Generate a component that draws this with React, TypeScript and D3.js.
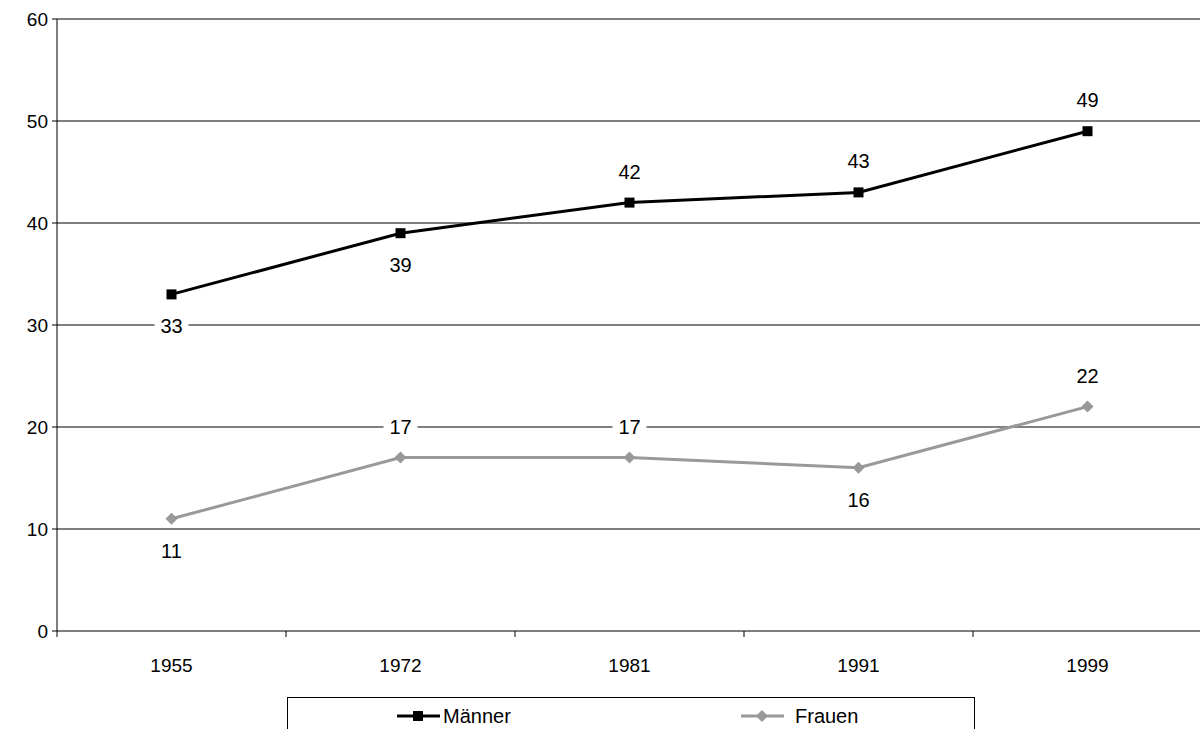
import React from "react";
import * as d3 from "d3";

const years = ["1955", "1972", "1981", "1991", "1999"];
const maenner = [33, 39, 42, 43, 49];
const frauen = [11, 17, 17, 16, 22];
const maennerPos = ["below", "below", "above", "above", "above"];
const frauenPos = ["below", "above", "above", "below", "above"];
const yTicks = [0, 10, 20, 30, 40, 50, 60];

export default function App() {
  const W = 1200, H = 729;
  const left = 57, right = 1202, top = 19, bottom = 631;
  const x = d3.scaleBand().domain(years).range([left, right]);
  const y = d3.scaleLinear().domain([0, 60]).range([bottom, top]);
  const cx = (d: string) => x(d)! + x.bandwidth() / 2;
  const line = d3.line<number>().x((_, i) => cx(years[i])).y((v) => y(v));
  const font = "'Liberation Sans', Arial, sans-serif";
  const labels = (vals: number[], pos: string[]) =>
    vals.map((v, i) => {
      const ly = y(v) + (pos[i] === "below" ? 32 : -31);
      return (
        <g key={i}>
          <rect x={cx(years[i]) - 17} y={ly - 12} width={34} height={24} fill="white" />
          <text x={cx(years[i])} y={ly} textAnchor="middle" dominantBaseline="central" fontSize={20} fontFamily={font} fill="#000">{v}</text>
        </g>
      );
    });
  return (
    <svg width={W} height={H} style={{ position: "absolute", left: 0, top: 0 }}>
      <rect width={W} height={H} fill="white" />
      {yTicks.map((t) => (
        <g key={t}>
          <line x1={left - 5} x2={right} y1={y(t)} y2={y(t)} stroke="#000" strokeWidth={1} />
          <text x={left - 9} y={y(t)} textAnchor="end" dominantBaseline="central" fontSize={19} fontFamily={font}>{t}</text>
        </g>
      ))}
      <line x1={left} x2={left} y1={top} y2={bottom} stroke="#000" />
      {years.map((yr, i) => (
        <g key={yr}>
          <line x1={x(yr)!} x2={x(yr)!} y1={bottom} y2={bottom + 6} stroke="#000" />
          <text x={cx(yr)} y={bottom + 34} textAnchor="middle" dominantBaseline="central" fontSize={19} fontFamily={font}>{yr}</text>
        </g>
      ))}
      <path d={line(maenner)!} fill="none" stroke="#000" strokeWidth={3} />
      <path d={line(frauen)!} fill="none" stroke="#999" strokeWidth={3} />
      {maenner.map((v, i) => (
        <rect key={i} x={cx(years[i]) - 5} y={y(v) - 5} width={10} height={10} fill="#000" />
      ))}
      {frauen.map((v, i) => (
        <path key={i} d={`M${cx(years[i])},${y(v) - 6}l6,6l-6,6l-6,-6z`} fill="#999" />
      ))}
      {labels(maenner, maennerPos)}
      {labels(frauen, frauenPos)}
      <rect x={287.5} y={697.5} width={687} height={40} fill="white" stroke="#000" />
      <line x1={397} x2={440} y1={716} y2={716} stroke="#000" strokeWidth={3} />
      <rect x={413} y={711} width={10} height={10} fill="#000" />
      <text x={443} y={716} dominantBaseline="central" fontSize={20} fontFamily={font}>Männer</text>
      <line x1={741} x2={784} y1={716} y2={716} stroke="#999" strokeWidth={3} />
      <path d="M762,710l6,6l-6,6l-6,-6z" fill="#999" />
      <text x={795} y={716} dominantBaseline="central" fontSize={20} fontFamily={font}>Frauen</text>
    </svg>
  );
}
